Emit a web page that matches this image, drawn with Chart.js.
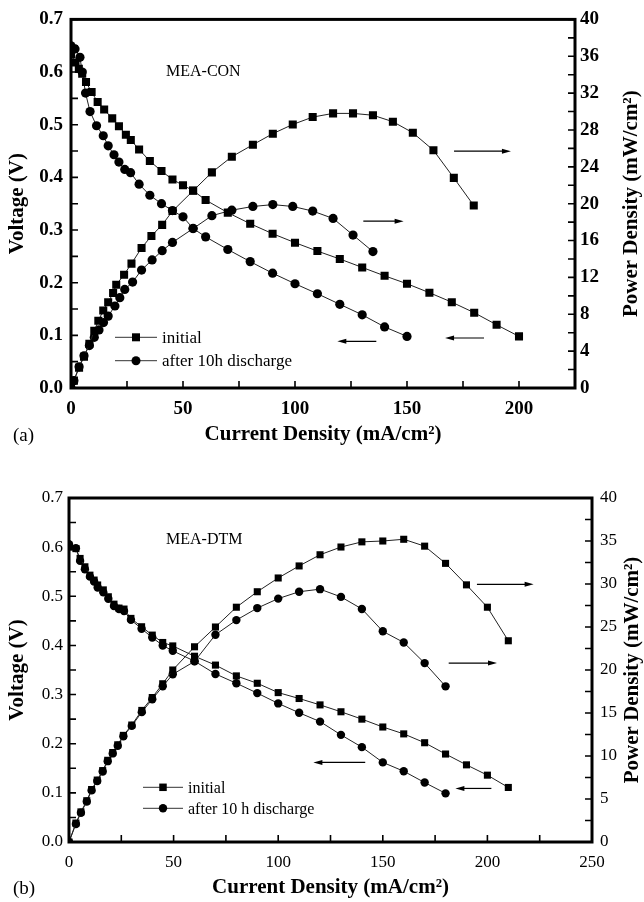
<!DOCTYPE html>
<html>
<head>
<meta charset="utf-8">
<script src="https://cdn.jsdelivr.net/npm/chart.js@4.4.0/dist/chart.umd.min.js"></script>
<style>
    body { margin: 0; background: #fff; width: 644px; height: 902px; position: relative; overflow: hidden; font-family: 'Liberation Serif', serif; }
    .wrap { position: absolute; left: 0; }
    .lbl { position: absolute; line-height: 1; color: #000; white-space: nowrap; }
</style>
</head>
<body>
<div class="wrap" style="top:0"><canvas id="chartA" width="644" height="450"></canvas></div>
<div class="wrap" style="top:450px"><canvas id="chartB" width="644" height="452"></canvas></div>
<div class="lbl" style="left:13px;top:425px;font-size:19px">(a)</div>
<div class="lbl" style="left:13px;top:878px;font-size:19px">(b)</div>
<div class="lbl" style="left:166px;top:63px;font-size:16px">MEA-CON</div>
<div class="lbl" style="left:166px;top:531px;font-size:16px">MEA-DTM</div>
<script>
// ---- (a) MEA-CON ----
const curA_iniV = [0, 2, 3.5, 5, 6.7, 9.2, 11.9, 14.8, 18.4, 21.4, 24.5, 26.7, 30.4, 35.2, 40.4, 45.3, 50, 54.5, 60.1, 70, 80, 90, 100, 110, 120, 130, 140, 150, 160, 170, 180, 190, 200];
const voltA_ini = [0.634, 0.618, 0.606, 0.597, 0.581, 0.562, 0.543, 0.529, 0.512, 0.497, 0.481, 0.471, 0.453, 0.431, 0.412, 0.396, 0.385, 0.375, 0.357, 0.333, 0.312, 0.293, 0.276, 0.260, 0.245, 0.229, 0.213, 0.198, 0.181, 0.163, 0.143, 0.120, 0.098];
const curA_aftV = [0, 1.8, 4, 5, 6.5, 8.5, 11.4, 14.4, 16.6, 19.2, 21.4, 24, 26.6, 30.4, 35.2, 40.4, 45.3, 50, 54.5, 60.1, 70, 80, 90, 100, 110, 120, 130, 140, 150];
const voltA_aft = [0.650, 0.644, 0.628, 0.600, 0.560, 0.525, 0.498, 0.479, 0.460, 0.443, 0.429, 0.415, 0.409, 0.387, 0.366, 0.350, 0.337, 0.325, 0.303, 0.287, 0.263, 0.240, 0.218, 0.198, 0.179, 0.159, 0.139, 0.116, 0.098];
const curA_iniP = [0, 1.3, 3.6, 5.8, 8.2, 10.4, 12.2, 14.4, 16.6, 18.8, 20.2, 23.7, 27, 31.5, 35.9, 40.7, 45.3, 54.5, 62.9, 71.8, 81.2, 90.1, 99, 107.9, 117, 125.9, 134.8, 143.7, 152.6, 161.8, 170.9, 179.8];
const powA_ini = [0, 0.8, 2.2, 3.4, 4.8, 6.2, 7.3, 8.4, 9.3, 10.3, 11.2, 12.3, 13.5, 15.2, 16.5, 17.7, 19.2, 21.4, 23.4, 25.1, 26.4, 27.6, 28.6, 29.4, 29.8, 29.8, 29.6, 28.9, 27.7, 25.8, 22.8, 19.8];
const curA_aftP = [0, 1.3, 3.6, 5.8, 8.2, 10.4, 12.5, 14.5, 16.6, 19.6, 21.8, 24, 27.5, 31.5, 36.2, 40.7, 45.3, 54.5, 62.9, 71.8, 81.2, 90.1, 99, 107.9, 117, 125.9, 134.8];
const powA_aft = [0, 0.8, 2.3, 3.5, 4.6, 5.5, 6.3, 7.1, 7.8, 8.9, 9.8, 10.7, 11.5, 12.8, 13.9, 14.9, 15.8, 17.3, 18.7, 19.3, 19.7, 19.9, 19.7, 19.2, 18.4, 16.6, 14.8];

// ---- (b) MEA-DTM ----
const curB_iniV = [0, 3.3, 5.3, 7.6, 10, 12, 13.7, 16.4, 18.8, 21.5, 23.9, 26.3, 29.6, 34.7, 39.8, 44.8, 49.6, 60, 70, 80, 90, 100, 110, 120, 130, 140, 150, 160, 170, 180, 190, 200, 210];
const voltB_ini = [0.600, 0.597, 0.577, 0.560, 0.543, 0.533, 0.523, 0.513, 0.499, 0.484, 0.476, 0.474, 0.455, 0.438, 0.421, 0.406, 0.399, 0.378, 0.360, 0.338, 0.323, 0.304, 0.292, 0.279, 0.265, 0.250, 0.234, 0.220, 0.202, 0.179, 0.157, 0.136, 0.111];
const curB_aftV = [0, 3.3, 5.3, 7.6, 10, 12, 13.7, 16.4, 18.8, 21.5, 23.9, 26.3, 29.6, 34.7, 39.8, 44.8, 49.6, 60, 70, 80, 90, 100, 110, 120, 130, 140, 150, 160, 170, 180];
const voltB_aft = [0.606, 0.598, 0.572, 0.555, 0.540, 0.530, 0.518, 0.508, 0.495, 0.480, 0.474, 0.470, 0.452, 0.434, 0.416, 0.400, 0.389, 0.368, 0.342, 0.323, 0.303, 0.282, 0.263, 0.245, 0.218, 0.193, 0.162, 0.144, 0.121, 0.099];
const curB_iniP = [0, 3.3, 5.7, 8.5, 10.8, 13.5, 16.1, 18.5, 20.9, 23.3, 26, 30, 34.8, 39.8, 44.8, 49.6, 60, 70, 80, 90, 100, 110, 120, 130, 140, 150, 160, 170, 180, 190, 200, 210];
const powB_ini = [0, 2.2, 3.5, 4.8, 6.1, 7.2, 8.3, 9.5, 10.4, 11.3, 12.4, 13.6, 15.3, 16.8, 18.4, 20.0, 22.7, 25.0, 27.3, 29.1, 30.7, 32.1, 33.4, 34.3, 34.9, 35.0, 35.2, 34.4, 32.4, 29.9, 27.3, 23.4];
const curB_aftP = [0, 3.3, 5.7, 8.5, 10.8, 13.5, 16.1, 18.5, 20.9, 23.3, 26, 30, 34.8, 39.8, 44.8, 49.6, 60, 70, 80, 90, 100, 110, 120, 130, 140, 150, 160, 170, 180];
const powB_aft = [0, 2.1, 3.4, 4.7, 6.0, 7.1, 8.2, 9.4, 10.3, 11.2, 12.3, 13.5, 15.1, 16.6, 18.1, 19.5, 21.0, 24.1, 25.8, 27.2, 28.3, 29.1, 29.4, 28.5, 27.1, 24.5, 23.2, 20.8, 18.1];

const legendLabelsA = ['initial', 'after 10h discharge'];
const legendLabelsB = ['initial', 'after 10 h discharge'];
const powerTitle = 'Power Density (mW/cm²)';

const FONT = "'Liberation Serif', 'Times New Roman', serif";

function toPoints(xs, ys) {
    return xs.map((x, i) => ({ x: x, y: ys[i] }));
}

// Recuadro, marcas hacia dentro, flechas, leyenda y título derecho
function decorPlugin(cfg) {
    return {
        id: 'decor',
        afterDraw(chart) {
            const ctx = chart.ctx;
            const a = chart.chartArea;
            const sx = chart.scales.x, sv = chart.scales.yV, sp = chart.scales.yP;
            ctx.save();
            ctx.strokeStyle = '#000';
            ctx.fillStyle = '#000';

            ctx.lineWidth = 1.6;
            ctx.beginPath();
            sx.ticks.forEach(t => {
                const px = sx.getPixelForValue(t.value);
                ctx.moveTo(px, a.bottom); ctx.lineTo(px, a.bottom - cfg.tick);
            });
            sv.ticks.forEach(t => {
                const py = sv.getPixelForValue(t.value);
                ctx.moveTo(a.left, py); ctx.lineTo(a.left + cfg.tick, py);
            });
            sp.ticks.forEach(t => {
                const py = sp.getPixelForValue(t.value);
                ctx.moveTo(a.right, py); ctx.lineTo(a.right - cfg.tick, py);
            });
            ctx.stroke();

            ctx.lineWidth = cfg.frame;
            ctx.strokeRect(a.left, a.top, a.right - a.left, a.bottom - a.top);

            // flechas
            ctx.lineWidth = 1.2;
            cfg.arrows.forEach(ar => {
                const sy = chart.scales[ar.axis];
                const x1 = sx.getPixelForValue(ar.from), x2 = sx.getPixelForValue(ar.to);
                const y = sy.getPixelForValue(ar.y);
                const dir = x2 > x1 ? 1 : -1;
                ctx.beginPath();
                ctx.moveTo(x1, y); ctx.lineTo(x2 - dir * 6, y);
                ctx.stroke();
                ctx.beginPath();
                ctx.moveTo(x2, y); ctx.lineTo(x2 - dir * 9, y - 2.5); ctx.lineTo(x2 - dir * 9, y + 2.5);
                ctx.closePath();
                ctx.fill();
            });

            // leyenda
            cfg.legend.rows.forEach(row => {
                const y = row.y;
                ctx.lineWidth = 1;
                ctx.strokeStyle = '#333';
                ctx.beginPath();
                ctx.moveTo(cfg.legend.x1, y); ctx.lineTo(cfg.legend.x2, y);
                ctx.stroke();
                const cx = (cfg.legend.x1 + cfg.legend.x2) / 2;
                ctx.beginPath();
                if (row.style === 'rect') {
                    const s = cfg.legend.sq;
                    ctx.rect(cx - s / 2, y - s / 2, s, s);
                } else {
                    ctx.arc(cx, y, cfg.legend.r, 0, Math.PI * 2);
                }
                ctx.fill();
                ctx.font = cfg.legend.fontSize + 'px ' + FONT;
                ctx.textBaseline = 'middle';
                ctx.textAlign = 'left';
                ctx.fillText(row.text, cfg.legend.textX, y + 1);
            });

            // título del eje derecho, leído de abajo hacia arriba
            ctx.translate(cfg.rTitleX, (a.top + a.bottom) / 2);
            ctx.rotate(-Math.PI / 2);
            ctx.font = 'bold 21px ' + FONT;
            ctx.textAlign = 'center';
            ctx.textBaseline = 'middle';
            ctx.fillText(powerTitle, 0, 0);
            ctx.restore();
        }
    };
}

function makeChart(canvasId, p) {
    const tickFont = { family: FONT, size: p.tickSize, weight: p.tickWeight };
    const titleFont = { family: FONT, size: 21, weight: 'bold', lineHeight: 1 };
    const lineStyle = { borderColor: '#222', borderWidth: 1, backgroundColor: '#000', pointBorderColor: '#000', pointBorderWidth: 0, showLine: true, tension: 0 };

    const config = {
        type: 'scatter',
        data: {
            datasets: [
                Object.assign({ label: 'initial V', data: toPoints(p.iniV[0], p.iniV[1]), yAxisID: 'yV', pointStyle: 'rect', pointRadius: p.sqR }, lineStyle),
                Object.assign({ label: 'after V', data: toPoints(p.aftV[0], p.aftV[1]), yAxisID: 'yV', pointStyle: 'circle', pointRadius: p.cR }, lineStyle),
                Object.assign({ label: 'initial P', data: toPoints(p.iniP[0], p.iniP[1]), yAxisID: 'yP', pointStyle: 'rect', pointRadius: p.sqR }, lineStyle),
                Object.assign({ label: 'after P', data: toPoints(p.aftP[0], p.aftP[1]), yAxisID: 'yP', pointStyle: 'circle', pointRadius: p.cR }, lineStyle),
            ],
        },
        options: {
            responsive: false,
            animation: false,
            events: [],
            layout: { padding: { top: p.padTop, left: 0, right: 0, bottom: 0 } },
            plugins: { legend: { display: false }, tooltip: { enabled: false } },
            scales: {
                x: {
                    type: 'linear', min: 0, max: p.xMax,
                    grid: { display: false, drawTicks: false },
                    border: { display: false },
                    ticks: { stepSize: 25, autoSkip: false, maxRotation: 0, padding: 10, color: '#000', font: tickFont,
                        callback: v => (v % 50 === 0 ? v : '') },
                    title: { display: true, text: 'Current Density (mA/cm²)', color: '#000', font: titleFont, padding: { top: 0, bottom: p.xTitlePad } },
                    afterFit: s => { s.height = p.xH; },
                },
                yV: {
                    type: 'linear', position: 'left', min: 0, max: 0.7,
                    grid: { display: false, drawTicks: false },
                    border: { display: false },
                    ticks: { stepSize: 0.05, autoSkip: false, padding: p.leftPad, color: '#000', font: tickFont,
                        callback: v => (Math.round(v * 100) % 10 === 0 ? v.toFixed(1) : '') },
                    title: { display: true, text: 'Voltage (V)', color: '#000', font: titleFont, padding: { top: 7.5, bottom: 0 } },
                    afterFit: s => { s.width = p.leftW; },
                },
                yP: {
                    type: 'linear', position: 'right', min: 0, max: 40,
                    grid: { display: false, drawTicks: false },
                    border: { display: false },
                    ticks: { stepSize: p.pStep, autoSkip: false, padding: p.rightPad, color: '#000', font: tickFont,
                        callback: v => (v % p.pLabel === 0 ? v : '') },
                    title: { display: false },
                    afterFit: s => { s.width = p.rightW; },
                },
            },
        },
        plugins: [decorPlugin(p.decor)],
    };

    const ctx = document.getElementById(canvasId).getContext('2d');
    return new Chart(ctx, config);
}

makeChart('chartA', {
    iniV: [curA_iniV, voltA_ini], aftV: [curA_aftV, voltA_aft],
    iniP: [curA_iniP, powA_ini], aftP: [curA_aftP, powA_aft],
    xMax: 225, pStep: 2, pLabel: 4,
    tickSize: 19, tickWeight: 'bold',
    padTop: 15, leftW: 71, rightW: 69, xH: 62,
    leftPad: 8, rightPad: 5, xTitlePad: 4.5,
    sqR: 5.7, cR: 4.6,
    decor: {
        tick: 7, frame: 3, rTitleX: 632,
        arrows: [
            { from: 171, to: 196.4, y: 25.7, axis: 'yP' },
            { from: 130.5, to: 148.5, y: 18.1, axis: 'yP' },
            { from: 136.3, to: 118.9, y: 0.0887, axis: 'yV' },
            { from: 184.4, to: 167, y: 0.095, axis: 'yV' },
        ],
        legend: {
            x1: 115, x2: 157, textX: 162, sq: 8, r: 4.5, fontSize: 17,
            rows: [
                { y: 337.3, style: 'rect', text: legendLabelsA[0] },
                { y: 360.7, style: 'circle', text: legendLabelsA[1] },
            ],
        },
    },
});

makeChart('chartB', {
    iniV: [curB_iniV, voltB_ini], aftV: [curB_aftV, voltB_aft],
    iniP: [curB_iniP, powB_ini], aftP: [curB_aftP, powB_aft],
    xMax: 250, pStep: 2.5, pLabel: 5,
    tickSize: 17, tickWeight: 'normal',
    padTop: 48, leftW: 69, rightW: 52, xH: 60,
    leftPad: 6, rightPad: 8, xTitlePad: 3.5,
    sqR: 5, cR: 4.2,
    decor: {
        tick: 7, frame: 3, rTitleX: 633,
        arrows: [
            { from: 195, to: 222.1, y: 29.96, axis: 'yP' },
            { from: 181.5, to: 204.6, y: 20.8, axis: 'yP' },
            { from: 141.6, to: 116.8, y: 0.162, axis: 'yV' },
            { from: 201.9, to: 184.7, y: 0.109, axis: 'yV' },
        ],
        legend: {
            x1: 143, x2: 183, textX: 188, sq: 7.5, r: 4.2, fontSize: 16,
            rows: [
                { y: 337.3, style: 'rect', text: legendLabelsB[0] },
                { y: 358.3, style: 'circle', text: legendLabelsB[1] },
            ],
        },
    },
});
</script>
</body>
</html>
